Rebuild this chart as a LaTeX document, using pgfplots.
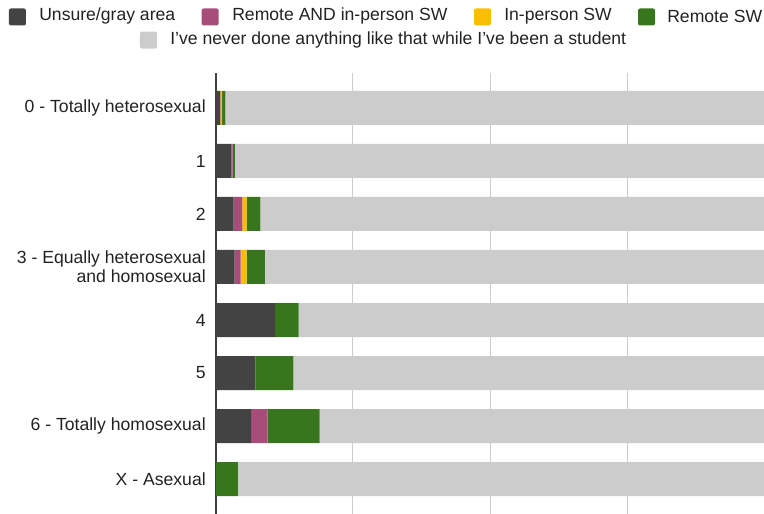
\documentclass[border=0pt]{standalone}
\usepackage{fontspec}
\setmainfont{Liberation Sans}
\usepackage{pgfplots}
\usepackage{pgfplotstable}
\pgfplotsset{compat=1.18}
\definecolor{cUns}{HTML}{434343}
\definecolor{cBoth}{HTML}{A64D79}
\definecolor{cIn}{HTML}{FBBC04}
\definecolor{cRem}{HTML}{38761D}
\definecolor{cNev}{HTML}{CCCCCC}
\definecolor{cTxt}{HTML}{222222}
\pgfplotstableread{
y uns both in rem nev
0 0.8 0 0.3 0.6 98.3
1 2.8 0.25 0 0.4 96.55
2 3.2 1.6 0.8 2.5 91.9
3 3.4 1.1 1.1 3.3 91.1
4 10.8 0 0 4.3 84.9
5 7.2 0 0 6.9 85.9
6 6.4 3.0 0 9.5 81.1
7 0 0 0 4.0 96.0
}\data
\newcommand{\lfont}{\fontsize{13.2}{14.5}\selectfont}
\begin{document}
\begin{tikzpicture}[x=1pt,y=1pt]
\begin{axis}[
  at={(0,0)}, anchor=south west,
  scale only axis, width=411pt, height=330.75pt,
  xbar stacked, bar width=25.5pt,
  xmin=0, xmax=100, ymin=-0.66, ymax=7.66, y dir=reverse,
  ytick={0,...,7},
  yticklabels={{0 - Totally heterosexual},{1},{2},{3 - Equally heterosexual\\and homosexual},{4},{5},{6 - Totally homosexual},{X - Asexual}},
  xtick={0,25,50,75,100}, xticklabels={},
  xmajorgrids, grid style={color=cNev, line width=0.75pt},
  major tick length=0pt,
  axis lines*=left,
  x axis line style={draw=none},
  y axis line style={draw=black!75, line width=1.1pt},
  yticklabel style={font=\lfont, text=cTxt, align=right, inner sep=0pt, xshift=-7.5pt},
  every axis plot/.append style={draw=none},
]
\addplot[fill=cUns] table[x=uns,y=y]{\data};
\addplot[fill=cBoth] table[x=both,y=y]{\data};
\addplot[fill=cIn] table[x=in,y=y]{\data};
\addplot[fill=cRem] table[x=rem,y=y]{\data};
\addplot[fill=cNev] table[x=nev,y=y]{\data};
\end{axis}
% legend
\begin{scope}[every node/.style={anchor=west, inner sep=0pt, font=\lfont, text=cTxt}]
\fill[cUns, rounded corners=1.5pt] (-155.25,366.4) rectangle ++(12.75,12.75);
\node at (-132.75,373.5) {Unsure/gray area};
\fill[cBoth, rounded corners=1.5pt] (-10.75,366.4) rectangle ++(12.75,12.75);
\node at (12,373.5) {Remote AND in-person SW};
\fill[cIn, rounded corners=1.5pt] (193.5,366.4) rectangle ++(12.75,12.75);
\node at (216,373.5) {In-person SW};
\fill[cRem, rounded corners=1.5pt] (316.5,366.4) rectangle ++(12.75,12.75);
\node at (338.25,373.5) {Remote SW};
\fill[cNev, rounded corners=1.5pt] (-57,349.1) rectangle ++(12.75,12.75);
\node at (-34.5,355.5) {I{\char39}ve never done anything like that while I{\char39}ve been a student};
\end{scope}
\pgfresetboundingbox
\path[use as bounding box] (-162,0) rectangle (411,385.5);
\end{tikzpicture}
\end{document}
